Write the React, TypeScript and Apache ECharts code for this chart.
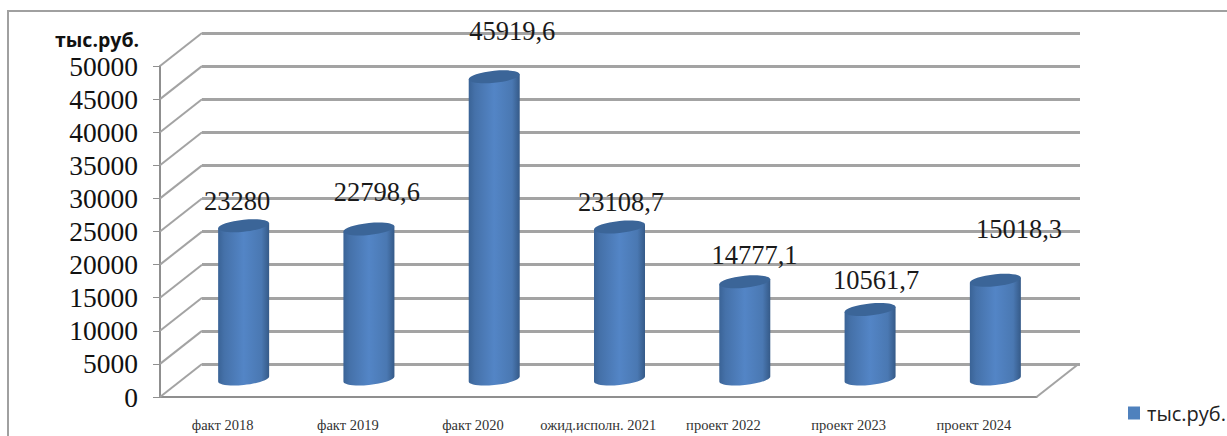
import React, { useEffect, useRef } from "react";
import * as echarts from "echarts";

const categories = ["факт 2018", "факт 2019", "факт 2020", "ожид.исполн. 2021", "проект 2022", "проект 2023", "проект 2024"];
const values = [23280, 22798.6, 45919.6, 23108.7, 14777.1, 10561.7, 15018.3];
const wallTicks = [0, 5000, 10000, 15000, 20000, 25000, 30000, 35000, 40000, 45000, 50000];
const seriesName = "тыс.руб.";
const unitTitle = "тыс.руб.";
const labelShifts = [[-6.5, -24.5], [8, -37], [18, -45.5], [1.5, -25], [9.7, -27], [6, -30], [23.6, -51.5]];

const FONT_SERIF = '"Liberation Serif", "Times New Roman", serif';
const FONT_SANS = '"Open Sans", "Noto Sans", sans-serif';
const GRID_GREY = "#a3a3a3";
const AXIS_GREY = "#8f8f8f";
const DEPTH_X = 42;
const DEPTH_Y = 33;

function halfEllipse(ctx: any, cx: number, cy: number, ax: number, ay: number, by: number, move: boolean) {
  const k = 0.5523;
  if (move) ctx.moveTo(cx - ax, cy - ay);
  ctx.bezierCurveTo(cx - ax, cy - ay + k * by, cx - k * ax, cy + by - k * ay, cx, cy + by);
  ctx.bezierCurveTo(cx + k * ax, cy + by + k * ay, cx + ax, cy + ay + k * by, cx + ax, cy + ay);
}

echarts.graphic.registerShape(
  "cylBody",
  echarts.graphic.extendShape({
    shape: { cx: 0, top: 0, base: 0, rx: 0, ry: 0, tilt: 0 },
    buildPath(ctx: any, s: any) {
      ctx.moveTo(s.cx - s.rx, s.top + s.tilt);
      ctx.lineTo(s.cx - s.rx, s.base + s.tilt);
      halfEllipse(ctx, s.cx, s.base, s.rx, -s.tilt, s.ry, false);
      ctx.lineTo(s.cx + s.rx, s.top - s.tilt);
      ctx.closePath();
    },
  })
);

echarts.graphic.registerShape(
  "cylCap",
  echarts.graphic.extendShape({
    shape: { cx: 0, top: 0, rx: 0, ry: 0, tilt: 0 },
    buildPath(ctx: any, s: any) {
      halfEllipse(ctx, s.cx, s.top, s.rx, -s.tilt, s.ry, true);
      // upper half, right to left
      halfEllipse(ctx, s.cx, s.top, -s.rx, s.tilt, -s.ry, false);
      ctx.closePath();
    },
  })
);

function renderCylinder(params: any, api: any) {
  const i = api.value(0);
  const v = api.value(1);
  const [cx, top] = api.coord([i, v]);
  const [, base] = api.coord([i, 0]);
  const shift = labelShifts[params.dataIndex];
  const rx = 25.5;
  const ry = 6;
  const tilt = 2.5;
  return {
    type: "group",
    children: [
      {
        type: "cylBody",
        shape: { cx, top, base, rx, ry, tilt },
        style: {
          fill: new echarts.graphic.LinearGradient(0, 0, 1, 0, [
            { offset: 0, color: "#3a6396" },
            { offset: 0.12, color: "#4571a9" },
            { offset: 0.5, color: "#5385c6" },
            { offset: 0.85, color: "#4a78b2" },
            { offset: 1, color: "#355a88" },
          ]),
        },
      },
      {
        type: "cylCap",
        shape: { cx, top, rx, ry, tilt },
        style: { fill: "#3b6598" },
      },
      {
        type: "text",
        x: cx + shift[0],
        y: top + shift[1],
        style: {
          text: String(v).replace(".", ","),
          fontFamily: FONT_SERIF,
          fontSize: 26.5,
          fill: "#1a1a1a",
          align: "center",
          verticalAlign: "middle",
        },
      },
    ],
  };
}

function renderWall(params: any, api: any) {
  const v = api.value(0);
  const [, y] = api.coord([0, v]);
  const x = params.coordSys.x;
  const w = params.coordSys.width;
  const lineStyle = { stroke: GRID_GREY, lineWidth: 2 };
  const children: any[] = [
    { type: "line", shape: { x1: x, y1: y, x2: x + DEPTH_X, y2: y - DEPTH_Y }, style: lineStyle },
  ];
  if (v === 0) {
    children.push({
      type: "line",
      shape: { x1: x + w, y1: y, x2: x + w + DEPTH_X, y2: y - DEPTH_Y },
      style: lineStyle,
    });
  }
  return { type: "group", children };
}

export default function App() {
  const ref = useRef<HTMLDivElement>(null);
  useEffect(() => {
    const chart = echarts.init(ref.current!, null, { renderer: "svg" });
    const hiddenCat = {
      type: "category",
      data: categories,
      axisLine: { show: false },
      axisTick: { show: false },
      axisLabel: { show: false },
    };
    const hiddenVal = {
      type: "value",
      min: 0,
      max: 50000,
      interval: 5000,
      axisLine: { show: false },
      axisTick: { show: false },
      axisLabel: { show: false },
      splitLine: { show: false },
    };
    chart.setOption({
      animation: false,
      backgroundColor: "#ffffff",
      title: {
        text: unitTitle,
        left: 50,
        top: 24,
        textStyle: { fontFamily: FONT_SANS, fontSize: 19.5, fontWeight: "bold", color: "#111111" },
      },
      legend: {
        left: 1128,
        top: 403,
        padding: 0,
        itemWidth: 12,
        itemHeight: 13,
        itemGap: 0,
        data: [{ name: seriesName, icon: "rect" }],
        textStyle: { fontFamily: FONT_SANS, fontSize: 20, color: "#222222", padding: [0, 0, 0, 2] },
      },
      graphic: [
        {
          type: "rect",
          z: -10,
          silent: true,
          shape: { x: 8, y: 11, width: 1400, height: 600 },
          style: { fill: "none", stroke: "#a0a0a0", lineWidth: 2 },
        },
      ],
      grid: [
        { left: 160, top: 66, width: 876.5, height: 331 },
        { left: 181, top: 50, width: 877, height: 329 },
        { left: 202, top: 33, width: 878, height: 331 },
      ],
      xAxis: [
        {
          type: "category",
          gridIndex: 0,
          data: categories,
          axisLine: { lineStyle: { color: AXIS_GREY, width: 2 } },
          axisTick: { length: 6, lineStyle: { color: AXIS_GREY, width: 1 } },
          axisLabel: {
            interval: 0,
            margin: 20,
            fontFamily: FONT_SERIF,
            fontSize: 14.5,
            color: "#333333",
          },
        },
        { ...hiddenCat, gridIndex: 1 },
        { ...hiddenCat, gridIndex: 2 },
      ],
      yAxis: [
        {
          type: "value",
          gridIndex: 0,
          min: 0,
          max: 50000,
          interval: 5000,
          axisLine: { show: true, lineStyle: { color: AXIS_GREY, width: 2 } },
          axisTick: { show: true, length: 7, lineStyle: { color: AXIS_GREY, width: 1 } },
          axisLabel: {
            margin: 22,
            fontFamily: FONT_SERIF,
            fontSize: 27.5,
            color: "#111111",
            lineHeight: 30,
            padding: [2, 0, 0, 0],
            formatter: (v: number) => String(v),
          },
          splitLine: { show: false },
        },
        { ...hiddenVal, gridIndex: 1 },
        {
          ...hiddenVal,
          gridIndex: 2,
          splitLine: { show: true, lineStyle: { color: GRID_GREY, width: 3 } },
        },
      ],
      series: [
        {
          type: "custom",
          xAxisIndex: 0,
          yAxisIndex: 0,
          silent: true,
          z: 1,
          clip: false,
          renderItem: renderWall,
          encode: { y: 0 },
          data: wallTicks.map((t) => [t]),
        },
        {
          type: "custom",
          name: seriesName,
          xAxisIndex: 1,
          yAxisIndex: 1,
          z: 5,
          clip: false,
          itemStyle: { color: "#4f81bd" },
          renderItem: renderCylinder,
          encode: { x: 0, y: 1 },
          data: values.map((v, i) => [i, v]),
        },
      ],
    });
    return () => chart.dispose();
  }, []);
  return (
    <div style={{ position: "fixed", left: 0, top: 0, width: 1227, height: 436, overflow: "hidden", background: "#fff" }}>
      <div ref={ref} style={{ width: 1227, height: 436 }} />
    </div>
  );
}
